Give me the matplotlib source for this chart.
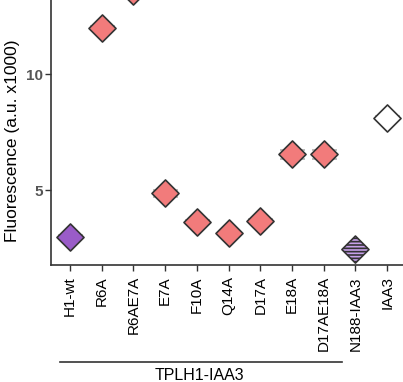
import matplotlib.pyplot as plt
import numpy as np

# Valeurs (fluorescence, u.a. x1000)
categories = ["H1-wt", "R6A", "R6AE7A", "E7A", "F10A", "Q14A", "D17A",
              "E18A", "D17AE18A", "N188-IAA3", "IAA3"]
valeurs = [3.0, 12.0, 13.6, 4.86, 3.63, 3.16, 3.66, 6.54, 6.54, 2.44, 8.13]
erreurs = [0.05, 0.1, 0.1, 0.15, 0.08, 0.05, 0.08, 0.2, 0.2, 0.05, 0.05]
groupes = ["wt", "mut", "mut", "mut", "mut", "mut", "mut", "mut", "mut", "n188", "iaa3"]

couleurs = {"wt": "#9a5cc8", "mut": "#f27b7b", "n188": "#c7a0ea", "iaa3": "white"}
hachures = {"wt": None, "mut": None, "n188": "-----", "iaa3": None}

plt.rcParams["font.family"] = ["Liberation Sans", "DejaVu Sans"]
plt.rcParams["hatch.color"] = "white"
plt.rcParams["hatch.linewidth"] = 1.2

fig = plt.figure(figsize=(4.03, 3.82), dpi=100)
ax = fig.add_axes([0.1266, 0.306, 0.8734, 0.694])

x = np.arange(len(categories))

# Barres d'erreur grises
ax.errorbar(x, valeurs, yerr=erreurs, fmt="none", ecolor="#b0b0b0",
            elinewidth=1, capsize=9, capthick=1.2, clip_on=False, zorder=2)

for i, (v, g) in enumerate(zip(valeurs, groupes)):
    ax.scatter(x[i], v, marker="D", s=190, facecolor=couleurs[g],
               edgecolor="#333333", linewidth=1.2, hatch=hachures[g],
               clip_on=False, zorder=3)

ax.set_xlim(-0.6, 10.5)
ax.set_ylim(1.77, 13.2)
ax.set_yticks([5, 10])
ax.set_yticklabels(["5", "10"], fontsize=11, fontweight="bold", color="#555555")
ax.set_xticks(x)
ax.set_xticklabels(categories, rotation=90, fontsize=11)
ax.tick_params(axis="both", direction="out", length=4, width=1, color="#333333")
ax.tick_params(axis="x", pad=4)
ax.tick_params(axis="y", pad=2)

for s in ["top", "right"]:
    ax.spines[s].set_visible(False)
for s in ["left", "bottom"]:
    ax.spines[s].set_color("#333333")
    ax.spines[s].set_linewidth(1.2)

# Libellé de l'axe y placé à la main pour ne pas être coupé
fig.text(13 / 403, 1 - 141 / 382, "Fluorescence (a.u. x1000)", rotation=90,
         ha="center", va="center", fontsize=12.5)

# Trait et libellé du groupe TPLH1-IAA3
fig.add_artist(plt.Line2D([60 / 403, 342 / 403], [1 - 362 / 382, 1 - 362 / 382],
                          color="#333333", linewidth=1.2))
fig.text(199 / 403, 1 - 376 / 382, "TPLH1-IAA3", ha="center", va="center", fontsize=11.5)

fig.savefig("out.png", dpi=100)
